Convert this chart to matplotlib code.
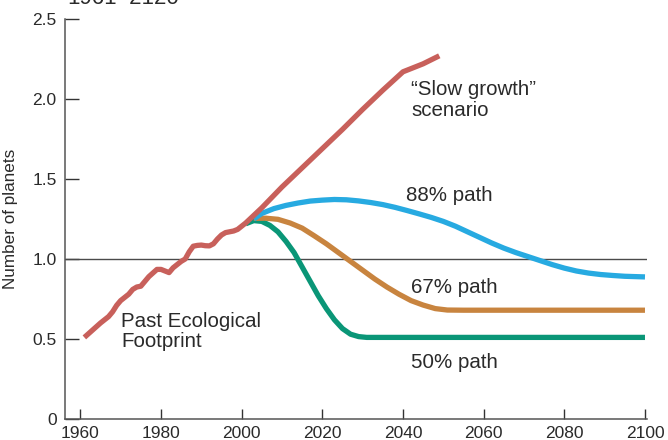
import matplotlib
matplotlib.use("Agg")
import matplotlib.pyplot as plt

plt.rcParams['font.family'] = ['Liberation Sans', 'DejaVu Sans']

# ---- data ----
past_years = [1961, 1963, 1965, 1967, 1968, 1969, 1970, 1972, 1973, 1974, 1975, 1977,
              1979, 1980, 1982, 1983, 1984, 1985, 1986, 1987, 1988, 1989, 1990, 1991,
              1992, 1993, 1994, 1995, 1996, 1997, 1998, 1999, 2000, 2001]
past_vals = [0.51, 0.555, 0.60, 0.64, 0.67, 0.71, 0.74, 0.78, 0.81, 0.825, 0.83, 0.89,
             0.935, 0.935, 0.915, 0.945, 0.965, 0.985, 1.0, 1.045, 1.08, 1.085, 1.087, 1.083,
             1.082, 1.095, 1.125, 1.15, 1.165, 1.17, 1.175, 1.185, 1.205, 1.225]

slow_years = [2001, 2005, 2010, 2015, 2020, 2025, 2030, 2035, 2040, 2045, 2049]
slow_vals = [1.225, 1.32, 1.45, 1.57, 1.69, 1.81, 1.935, 2.055, 2.17, 2.22, 2.27]

p88_years = [2003, 2005, 2008, 2011, 2014, 2017, 2020, 2023, 2026, 2029, 2032, 2035,
             2038, 2041, 2044, 2047, 2050, 2053, 2056, 2059, 2062, 2065, 2068, 2071,
             2074, 2077, 2080, 2083, 2086, 2089, 2092, 2095, 2100]
p88_vals = [1.25, 1.285, 1.315, 1.335, 1.35, 1.362, 1.368, 1.372, 1.37, 1.363, 1.353, 1.34,
            1.323, 1.303, 1.282, 1.26, 1.235, 1.205, 1.17, 1.135, 1.10, 1.068, 1.04, 1.015,
            0.99, 0.965, 0.943, 0.925, 0.912, 0.903, 0.897, 0.892, 0.888]

p67_years = [2003, 2006, 2009, 2012, 2015, 2018, 2021, 2024, 2027, 2030, 2033, 2036,
             2039, 2042, 2045, 2048, 2051, 2055, 2100]
p67_vals = [1.254, 1.255, 1.248, 1.225, 1.193, 1.145, 1.095, 1.04, 0.985, 0.93, 0.875, 0.825,
            0.78, 0.74, 0.712, 0.69, 0.681, 0.68, 0.68]

p50_years = [2001, 2003, 2005, 2007, 2009, 2011, 2013, 2015, 2017, 2019, 2021, 2023,
             2025, 2027, 2029, 2031, 2100]
p50_vals = [1.22, 1.24, 1.235, 1.21, 1.17, 1.11, 1.04, 0.95, 0.86, 0.77, 0.69, 0.62,
            0.565, 0.53, 0.515, 0.51, 0.51]

x_ticks = [1960, 1980, 2000, 2020, 2040, 2060, 2080, 2100]
y_ticks = [0, 0.5, 1.0, 1.5, 2.0, 2.5]
y_ticklabels = ['0', '0.5', '1.0', '1.5', '2.0', '2.5']

RED = '#C8605B'
BLUE = '#27AAE1'
ORANGE = '#C8843F'
GREEN = '#0A9677'
TXT = '#2a2a2a'
AX = '#555555'

fig = plt.figure(figsize=(6.68, 4.40), dpi=100)
ax = fig.add_axes([65/668, 1 - 419/440, (647 - 65)/668, 400/440])

lw = 3.8
ax.plot(p50_years, p50_vals, color=GREEN, lw=lw, solid_capstyle='butt', zorder=3)
ax.plot(p67_years, p67_vals, color=ORANGE, lw=lw, solid_capstyle='butt', zorder=4)
ax.plot(p88_years, p88_vals, color=BLUE, lw=lw, solid_capstyle='butt', zorder=5)
ax.plot(past_years + slow_years[1:], past_vals + slow_vals[1:], color=RED, lw=lw,
        solid_capstyle='butt', solid_joinstyle='round', zorder=6)

ax.axhline(1.0, color='#4a4a4a', lw=1.0, zorder=2)

ax.set_xlim(1956.2, 2100.5)
ax.set_ylim(0, 2.5)
ax.set_xticks(x_ticks)
ax.set_yticks(y_ticks)
ax.set_yticklabels(y_ticklabels)

for s in ['top', 'right']:
    ax.spines[s].set_visible(False)
for s in ['left', 'bottom']:
    ax.spines[s].set_color(AX)
    ax.spines[s].set_linewidth(1.1)

ax.tick_params(axis='y', direction='in', length=10, width=1.0, color='#333333',
               labelsize=12.5, labelcolor=TXT, pad=6)
ax.tick_params(axis='x', direction='in', length=7, width=1.0, color='#333333',
               labelsize=12.5, labelcolor=TXT, pad=5)

ax.set_ylabel('Number of planets', fontsize=12.3, color=TXT, labelpad=10)

fs = 14.8
ax.text(2041.9, 2.025, '\u201cSlow growth\u201d', fontsize=fs, color=TXT, va='baseline')
ax.text(2042.0, 1.894, 'scenario', fontsize=fs, color=TXT, va='baseline')
ax.text(2040.8, 1.362, '88% path', fontsize=fs, color=TXT, va='baseline')
ax.text(2042.1, 0.786, '67% path', fontsize=fs, color=TXT, va='baseline')
ax.text(2042.1, 0.319, '50% path', fontsize=fs, color=TXT, va='baseline')
ax.text(1970.2, 0.577, 'Past Ecological', fontsize=fs, color=TXT, va='baseline')
ax.text(1970.2, 0.452, 'Footprint', fontsize=fs, color=TXT, va='baseline')

fig.text(67/668, 1 - 4/440, '1961\u20132120', fontsize=16, color=TXT, va='baseline', ha='left')

fig.savefig('out.png', dpi=100)
